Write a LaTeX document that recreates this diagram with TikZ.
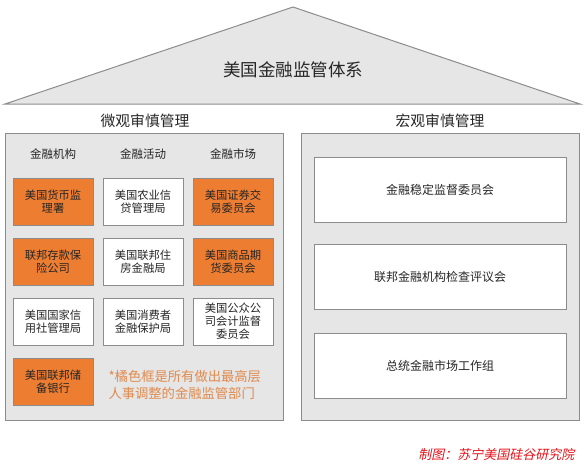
\documentclass[tikz,border=0pt]{standalone}
\usepackage{fontspec}
\setmainfont{Noto Sans CJK SC}
\newfontfamily\creditfont[FakeSlant=0.2]{Noto Sans CJK SC}
\usetikzlibrary{positioning}

\definecolor{panelgray}{HTML}{E6E6E6}
\definecolor{edgegray}{HTML}{8C8C8C}
\definecolor{orangebox}{HTML}{ED7D31}
\definecolor{notetext}{HTML}{E08A4E}
\definecolor{creditred}{HTML}{E3131B}

\tikzset{
  panel/.style={draw=edgegray, fill=panelgray, line width=1pt},
  unit/.style={draw=edgegray, line width=1pt, minimum width=80pt, minimum height=47pt,
    align=center, inner sep=1pt, font=\fontsize{11.3}{13}\selectfont, text=black!85},
  hot/.style={unit, fill=orangebox},
  cold/.style={unit, fill=white},
  council/.style={draw=edgegray, fill=white, line width=1pt, minimum width=252pt,
    minimum height=65pt, font=\fontsize{12}{14}\selectfont, text=black!85},
  heading/.style={font=\fontsize{14.8}{16}\selectfont, text=black!85},
  colhead/.style={font=\fontsize{11.5}{13}\selectfont, text=black!85}
}

\begin{document}
\begin{tikzpicture}[x=1pt, y=-1pt]
	\useasboundingbox (0,0) rectangle (586,464);
	% roof
	\draw[draw=edgegray, fill=panelgray, line width=1pt] (5,104) -- (293,7) -- (580,104) -- cycle;
	\node[font=\fontsize{17.5}{19}\selectfont, text=black!85] (roof) at (293,70) {美国金融监管体系};
	% left panel
	\node[heading] (micro) at (145,121) {微观审慎管理};
	\draw[panel] (5,133) rectangle (283,420);
	\node[colhead] (inst) at (53,154) {金融机构};
	\node[colhead] (act) at (143,154) {金融活动};
	\node[colhead] (mkt) at (233,154) {金融市场};
	\node[hot] (occ) at (53,201.5) {美国货币监\\理署};
	\node[cold] (fca) at (143,201.5) {美国农业信\\贷管理局};
	\node[hot] (sec) at (233,201.5) {美国证券交\\易委员会};
	\node[hot] (fdic) at (53,261.5) {联邦存款保\\险公司};
	\node[cold] (fhfa) at (143,261.5) {美国联邦住\\房金融局};
	\node[hot] (cftc) at (233,261.5) {美国商品期\\货委员会};
	\node[cold] (ncua) at (53,321.5) {美国国家信\\用社管理局};
	\node[cold] (cfpb) at (143,321.5) {美国消费者\\金融保护局};
	\node[cold] (pcaob) at (233,321.5) {美国公众公\\司会计监督\\委员会};
	\node[hot] (fed) at (53,382) {美国联邦储\\备银行};
	\node[anchor=west, align=left, text=notetext, font=\fontsize{13.3}{16.5}\selectfont] (note) at (105,385)
		{*橘色框是所有做出最高层\\人事调整的金融监管部门};
	% right panel
	\node[heading] (macro) at (440,121) {宏观审慎管理};
	\draw[panel] (301,133) rectangle (579,420);
	\node[council] (fsoc) at (440,190) {金融稳定监督委员会};
	\node[council] (ffiec) at (440,276.5) {联邦金融机构检查评议会};
	\node[council] (pwg) at (440,365.5) {总统金融市场工作组};
	% source
	\node[anchor=east, text=creditred, font=\creditfont\fontsize{13}{15}\selectfont] (credit) at (578,455) {制图：苏宁美国硅谷研究院};
\end{tikzpicture}
\end{document}
